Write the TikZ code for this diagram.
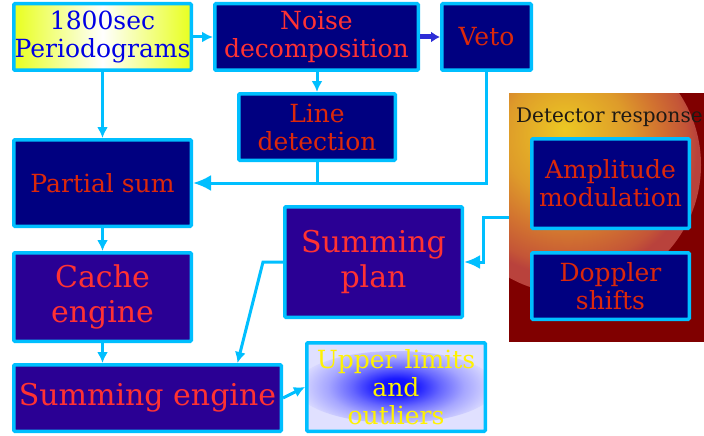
\documentclass[tikz,border=0pt]{standalone}
\usepackage{fontspec}
\setmainfont{DejaVu Serif}
\usetikzlibrary{arrows.meta,calc}
\definecolor{navyb}{RGB}{0,0,128}
\definecolor{indig}{RGB}{42,0,148}
\definecolor{skyb}{RGB}{0,191,255}
\definecolor{redA}{RGB}{255,50,50}
\definecolor{redB}{RGB}{220,40,10}
\definecolor{yelP}{RGB}{232,255,30}
\definecolor{arrB}{RGB}{45,45,215}
\definecolor{darkred}{RGB}{128,0,0}
\definecolor{dyel}{RGB}{236,200,35}
\definecolor{dor}{RGB}{222,155,42}
\definecolor{dor2}{RGB}{210,115,48}
\definecolor{dor3}{RGB}{196,85,55}
\definecolor{dedge}{RGB}{185,66,60}
\definecolor{txtdark}{RGB}{30,25,20}
\pgfdeclareradialshading{detshade}{\pgfpoint{-1.5bp}{7bp}}{color(0bp)=(dyel); color(6bp)=(dyel!50!dor); color(12bp)=(dor); color(18bp)=(dor2); color(23bp)=(dor3); color(25bp)=(dedge); color(50bp)=(dedge)}
\pgfdeclareradialshading{ulshade}{\pgfpoint{0bp}{0bp}}{color(0bp)=(blue); color(5bp)=(blue!90!white); color(11bp)=(blue!60!white); color(17bp)=(blue!35!white); color(25bp)=(blue!12!white); color(50bp)=(blue!12!white)}
\begin{document}
\begin{tikzpicture}[x=1pt,y=-1pt,
  box/.style={draw=skyb, line width=3.5pt, rectangle, inner sep=0pt, align=center, rounded corners=1pt},
  sm/.style={font=\fontsize{25}{28}\selectfont},
  bg/.style={font=\fontsize{30}{35}\selectfont},
  conn/.style={draw=skyb, line width=3pt, -{Latex[length=11pt,width=11pt]}},
  line/.style={draw=skyb, line width=3pt},
]
\useasboundingbox (0,0) rectangle (704,436);

% detector response region
\fill[darkred] (509,93) rectangle (704,342);
\begin{scope}
  \clip (509,93) rectangle (704,342);
  \shade[shading=detshade] (572,165) circle[radius=129];
  \node[anchor=west, text=txtdark, font=\fontsize{20}{23}\selectfont, inner sep=0pt] (detlabel) at (516,117) {Detector response};
\end{scope}
\node[inner sep=0pt, outer sep=0pt, minimum width=195pt, minimum height=249pt] (det) at (606.5,217.5) {};

% boxes
\node[box, sm, text=blue!90!black, left color=yelP, right color=yelP, middle color=white,
  minimum width=177.5pt, minimum height=66.5pt] (per) at (102.5,37) {1800sec\\Periodograms};
\node[box, sm, fill=navyb, text=redA, minimum width=203.5pt, minimum height=66.5pt] (noise) at (316.5,37) {Noise\\decomposition};
\node[box, sm, fill=navyb, text=redB, minimum width=89.5pt, minimum height=66.5pt] (veto) at (486.5,37) {Veto};
\node[box, sm, fill=navyb, text=redB, minimum width=156.5pt, minimum height=66.5pt] (line) at (317,127) {Line\\detection};
\node[box, sm, fill=navyb, text=redB, minimum width=177.5pt, minimum height=86.5pt] (ps) at (102.5,183) {Partial sum};
\node[box, bg, fill=indig, text=redA, minimum width=177.5pt, minimum height=88.5pt] (cache) at (102.5,297) {Cache\\engine};
\node[box, bg, fill=indig, text=redA, minimum width=267.5pt, minimum height=66.5pt] (seng) at (147.5,398) {Summing engine};
\node[box, bg, fill=indig, text=redA, minimum width=177.5pt, minimum height=110.5pt] (plan) at (373.5,262) {Summing\\plan};
\node[box, sm, fill=blue!12!white, text=yellow, minimum width=178.5pt, minimum height=88.5pt,
  path picture={\shade[shading=ulshade] (path picture bounding box.center) ellipse[x radius=100pt, y radius=36pt];}] (ul) at (396,387) {Upper limits\\and\\outliers};
\node[box, sm, fill=navyb, text=redB, minimum width=157.5pt, minimum height=89.5pt] (amp) at (610.5,183.5) {Amplitude\\modulation};
\node[box, sm, fill=navyb, text=redB, minimum width=157.5pt, minimum height=66.5pt] (dop) at (610.5,286) {Doppler\\shifts};

% connectors
\draw[conn] (per.east |- noise.west) -- (noise.west);
\draw[draw=arrB, line width=5pt, -{Latex[length=9pt,width=11pt]}] (noise.east) -- (veto.west);
\draw[conn] (line.north |- noise.south) -- (line.north);
\draw[conn] (per.south) -- (ps.north);
\draw[line] (line.south) -- (line.south |- ps.east);
\draw[draw=skyb, line width=3pt, -{Latex[length=18pt,width=16pt]}] (veto.south) |- (ps.east);
\draw[conn] (ps.south) -- (cache.north);
\draw[conn] (cache.south) -- (cache.south |- seng.north);
\draw[draw=skyb, line width=3pt, -{Latex[length=16pt,width=14pt]}] (det.west) -- ++(-26,0) |- (plan.east);
\draw[conn] (plan.west) -- ++(-20,0) -- ([xshift=90pt]seng.north);
\draw[conn] (seng.east) -- (ul.west);
\end{tikzpicture}
\end{document}
